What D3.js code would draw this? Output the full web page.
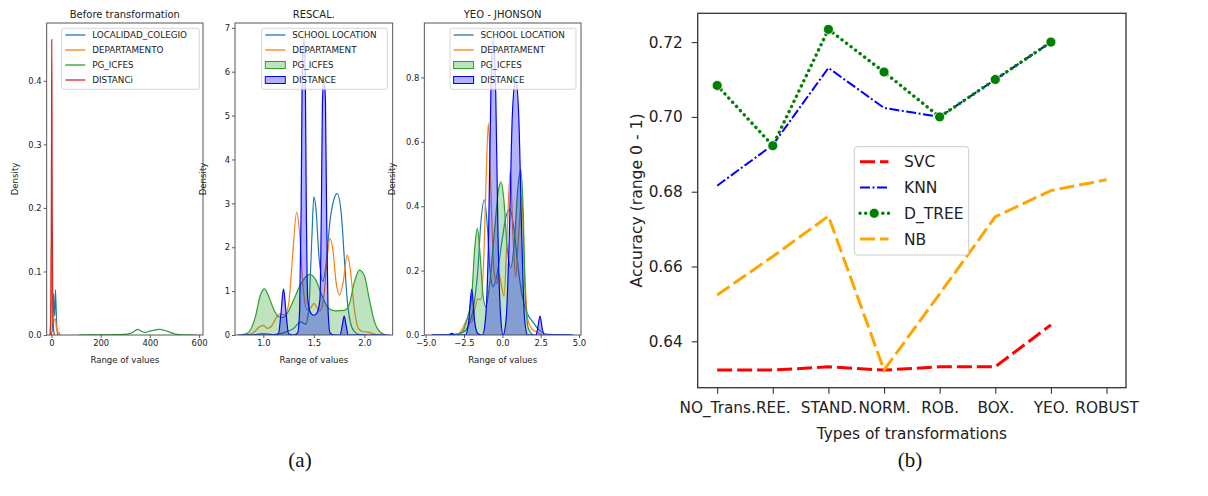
<!DOCTYPE html>
<html>
<head>
<meta charset="utf-8">
<script src="https://cdn.jsdelivr.net/npm/d3@7"></script>
<style>
  body { margin: 0; background: #fff; }
  svg { display: block; font-family: "DejaVu Sans", sans-serif; }
</style>
</head>
<body>
<div id="chart"></div>
<script>
// ==========================================
// DATA
// ==========================================

// --- (a) density curves, [x, density] pairs ---
// Before transformation
const beforeLocalidad = [[-3,0],[2,0.005],[5,0.03],[8,0.065],[10,0.045],[13,0.03],[16,0.071],[19,0.04],[22,0.01],[26,0]];
const beforeDepartamento = [[-5,0],[-2,0.05],[0,0.16],[2,0.08],[4,0.02],[8,0.02],[12,0.025],[16,0.025],[20,0.01],[25,0.005],[30,0.004],[35,0]];
const beforePgIcfes = [[110,0],[200,0.0003],[300,0.001],[330,0.004],[350,0.009],[365,0.006],[380,0.004],[400,0.006],[440,0.009],[470,0.006],[500,0.002],[530,0.0003],[590,0]];
const beforeDistanci = [[-6,0],[-3,0.03],[-1,0.16],[0,0.3],[1,0.465],[2,0.36],[3,0.2],[5,0.06],[8,0.01],[12,0]];

// RESCAL.
const rescalSchool = [[0.9,0],[1.0,0.03],[1.1,0.01],[1.2,0.05],[1.3,0.15],[1.37,0.3],[1.42,0.25],[1.45,0.6],[1.48,2.2],[1.5,3.15],[1.52,2.9],[1.55,1.8],[1.59,1.22],[1.62,1.6],[1.66,2.6],[1.7,3.1],[1.73,3.22],[1.77,2.8],[1.8,1.8],[1.83,0.8],[1.86,0.3],[1.9,0.08],[1.95,0.01],[2.0,0]];
const rescalDepartament = [[0.84,0],[0.9,0.05],[0.96,0.18],[1.0,0.22],[1.04,0.15],[1.08,0.2],[1.13,0.4],[1.17,0.48],[1.21,0.45],[1.25,0.7],[1.29,1.8],[1.33,2.8],[1.36,2.3],[1.39,1.2],[1.43,0.58],[1.47,0.62],[1.5,0.72],[1.53,0.62],[1.56,0.55],[1.6,0.9],[1.63,1.7],[1.66,2.2],[1.69,1.9],[1.72,1.2],[1.755,0.91],[1.79,1.2],[1.83,1.82],[1.86,1.5],[1.9,0.6],[1.94,0.15],[1.98,0.08],[2.05,0.06],[2.1,0.02],[2.15,0]];
const rescalPgIcfes = [[0.78,0],[0.85,0.05],[0.92,0.4],[0.97,0.9],[1.01,1.05],[1.05,0.9],[1.1,0.6],[1.15,0.42],[1.2,0.4],[1.25,0.55],[1.3,0.8],[1.38,1.2],[1.46,1.38],[1.52,1.25],[1.58,0.9],[1.65,0.6],[1.72,0.55],[1.8,0.56],[1.85,0.7],[1.9,1.2],[1.95,1.48],[2.0,1.35],[2.05,0.8],[2.1,0.3],[2.15,0.08],[2.21,0]];
const rescalDistance = [[0.75,0],[1.1,0],[1.15,0.03],[1.175,0.5],[1.2,1.05],[1.225,0.5],[1.25,0.03],[1.3,0],[1.34,0.05],[1.36,0.6],[1.375,3],[1.385,6],[1.4,6.75],[1.415,6],[1.425,3],[1.44,0.8],[1.47,0.5],[1.5,0.45],[1.53,0.5],[1.56,0.8],[1.575,3],[1.585,5.3],[1.6,5.85],[1.615,5.3],[1.625,3],[1.64,0.6],[1.66,0.05],[1.7,0],[1.76,0],[1.78,0.2],[1.8,0.43],[1.82,0.2],[1.84,0],[2.25,0]];

// YEO - JHONSON
const yeoSchool = [[-4.6,0],[-3,0.003],[-2.5,0.01],[-2.2,0.03],[-1.9,0.08],[-1.6,0.2],[-1.4,0.35],[-1.17,0.42],[-1.0,0.35],[-0.8,0.2],[-0.6,0.15],[-0.3,0.2],[0.0,0.3],[0.25,0.37],[0.5,0.39],[0.75,0.33],[1.0,0.22],[1.3,0.12],[1.6,0.07],[2.0,0.04],[2.4,0.015],[3.0,0.002],[4.6,0]];
const yeoDepartament = [[-2.9,0],[-2.6,0.02],[-2.22,0.052],[-2.0,0.04],[-1.8,0.08],[-1.59,0.112],[-1.4,0.11],[-1.2,0.25],[-1.05,0.5],[-0.91,0.657],[-0.75,0.45],[-0.55,0.2],[-0.37,0.16],[-0.22,0.19],[-0.05,0.15],[0.11,0.12],[0.3,0.3],[0.52,0.512],[0.7,0.3],[0.87,0.18],[1.05,0.3],[1.26,0.43],[1.45,0.2],[1.65,0.05],[1.9,0.02],[2.2,0.01],[2.6,0]];
const yeoPgIcfes = [[-3.0,0],[-2.6,0.01],[-2.3,0.05],[-2.0,0.12],[-1.8,0.27],[-1.63,0.331],[-1.45,0.25],[-1.25,0.12],[-1.07,0.088],[-0.85,0.15],[-0.5,0.33],[-0.25,0.45],[-0.09,0.476],[0.1,0.42],[0.3,0.28],[0.55,0.21],[0.8,0.3],[1.0,0.45],[1.2,0.514],[1.35,0.4],[1.5,0.12],[1.7,0.02],[2.0,0]];
const yeoDistance = [[-4.6,0],[-3.5,0],[-3.3,0.005],[-3.1,0],[-2.4,0],[-2.2,0.04],[-2.0,0.142],[-1.8,0.04],[-1.6,0.005],[-1.3,0],[-1.1,0.05],[-0.9,0.3],[-0.75,0.75],[-0.59,0.921],[-0.43,0.75],[-0.28,0.3],[-0.1,0.05],[0.05,0],[0.25,0.05],[0.45,0.3],[0.65,0.68],[0.87,0.797],[1.07,0.68],[1.27,0.3],[1.45,0.05],[1.65,0],[2.2,0],[2.3,0.02],[2.46,0.059],[2.6,0.02],[2.75,0],[4.6,0]];

// --- (b) accuracy per transformation ---
const transforms = ["NO_Trans.", "REE.", "STAND.", "NORM.", "ROB.", "BOX.", "YEO.", "ROBUST"];
const svcAcc   = [0.6323, 0.6323, 0.6332, 0.6323, 0.6332, 0.6332, 0.6444];
const knnAcc   = [0.6816, 0.6925, 0.7131, 0.7024, 0.7000, 0.7100, 0.7200];
const dtreeAcc = [0.7084, 0.6923, 0.7234, 0.7120, 0.7000, 0.7100, 0.7200];
const nbAcc    = [0.6524, 0.6627, 0.6735, 0.6323, 0.6527, 0.6733, 0.6803, 0.6832];

// ==========================================
// CANVAS
// ==========================================
const W = 1208, H = 496;
const svg = d3.select("#chart").append("svg")
    .attr("width", W).attr("height", H)
    .attr("viewBox", `0 0 ${W} ${H}`);

const C0 = "#1f77b4", C1 = "#ff7f0e", C2 = "#2ca02c", C3 = "#d62728";

// ==========================================
// (a) three density panels
// ==========================================
const panels = [
    {
        id: "p1", title: "Before transformation",
        left: 46.7, right: 203, xdom: [-19.5, 616], ydom: [0, 0.491],
        xticks: [0, 200, 400, 600], yticks: [0, 0.1, 0.2, 0.3, 0.4],
        xfmt: d3.format("d"), yfmt: d3.format(".1f"),
        legendX: 61.7, legendW: 137.6,
        series: [
            { name: "LOCALIDAD_COLEGIO", data: beforeLocalidad, color: C0 },
            { name: "DEPARTAMENTO", data: beforeDepartamento, color: C1 },
            { name: "PG_ICFES", data: beforePgIcfes, color: C2 },
            { name: "DISTANCi", data: beforeDistanci, color: C3 }
        ]
    },
    {
        id: "p2", title: "RESCAL.",
        left: 235, right: 392.7, xdom: [0.72, 2.28], ydom: [0, 7.11],
        xticks: [1.0, 1.5, 2.0], yticks: [0, 1, 2, 3, 4, 5, 6, 7],
        xfmt: d3.format(".1f"), yfmt: d3.format("d"),
        legendX: 261.7, legendW: 125.6,
        series: [
            { name: "SCHOOL LOCATION", data: rescalSchool, color: C0 },
            { name: "DEPARTAMENT", data: rescalDepartament, color: C1 },
            { name: "PG_ICFES", data: rescalPgIcfes, color: C2, fill: true },
            { name: "DISTANCE", data: rescalDistance, color: "#0000ff", fill: true }
        ]
    },
    {
        id: "p3", title: "YEO - JHONSON",
        left: 424.3, right: 581, xdom: [-5.09, 5.13], ydom: [0, 0.969],
        xticks: [-5, -2.5, 0, 2.5, 5], yticks: [0, 0.2, 0.4, 0.6, 0.8],
        xfmt: d3.format(".1f"), yfmt: d3.format(".1f"),
        legendX: 450, legendW: 126,
        series: [
            { name: "SCHOOL LOCATION", data: yeoSchool, color: C0 },
            { name: "DEPARTAMENT", data: yeoDepartament, color: C1 },
            { name: "PG_ICFES", data: yeoPgIcfes, color: C2, fill: true },
            { name: "DISTANCE", data: yeoDistance, color: "#0000ff", fill: true }
        ]
    }
];

const aTop = 23, aBottom = 335;

panels.forEach(p => {
    const x = d3.scaleLinear().domain(p.xdom).range([p.left, p.right]);
    const y = d3.scaleLinear().domain(p.ydom).range([aBottom, aTop]);
    const g = svg.append("g");

    g.append("clipPath").attr("id", "clip-" + p.id)
        .append("rect")
        .attr("x", p.left).attr("y", aTop)
        .attr("width", p.right - p.left).attr("height", aBottom - aTop);

    const plot = g.append("g").attr("clip-path", `url(#clip-${p.id})`);
    const line = d3.line().x(d => x(d[0])).y(d => y(d[1])).curve(d3.curveMonotoneX);
    const area = d3.area().x(d => x(d[0])).y0(y(0)).y1(d => y(d[1])).curve(d3.curveMonotoneX);

    p.series.forEach(s => {
        if (s.fill) {
            plot.append("path").datum(s.data)
                .attr("d", area)
                .attr("fill", s.color).attr("fill-opacity", 0.3);
        }
        plot.append("path").datum(s.data)
            .attr("d", line)
            .attr("fill", "none")
            .attr("stroke", s.color)
            .attr("stroke-width", 1.2);
    });

    // axes
    const xAxis = g.append("g")
        .attr("transform", `translate(0,${aBottom})`)
        .call(d3.axisBottom(x).tickValues(p.xticks).tickFormat(p.xfmt).tickSize(3).tickPadding(2));
    const yAxis = g.append("g")
        .attr("transform", `translate(${p.left},0)`)
        .call(d3.axisLeft(y).tickValues(p.yticks).tickFormat(p.yfmt).tickSize(3).tickPadding(2));
    [xAxis, yAxis].forEach(a => {
        a.select(".domain").remove();
        a.selectAll("line").attr("stroke", "#333").attr("stroke-width", 0.8);
        a.selectAll("text").attr("font-size", 8.4).attr("fill", "#222")
            .attr("font-family", "DejaVu Sans, sans-serif");
    });

    g.append("rect")
        .attr("x", p.left).attr("y", aTop)
        .attr("width", p.right - p.left).attr("height", aBottom - aTop)
        .attr("fill", "none").attr("stroke", "#444").attr("stroke-width", 0.9);

    g.append("text")
        .attr("x", (p.left + p.right) / 2).attr("y", 18)
        .attr("text-anchor", "middle").attr("font-size", 10).attr("fill", "#222")
        .text(p.title);
    g.append("text")
        .attr("x", (p.left + p.right) / 2).attr("y", 363)
        .attr("text-anchor", "middle").attr("font-size", 8.6).attr("fill", "#222")
        .text("Range of values");
    g.append("text")
        .attr("transform", `translate(${p.left - 29},${(aTop + aBottom) / 2}) rotate(-90)`)
        .attr("text-anchor", "middle").attr("font-size", 8.6).attr("fill", "#222")
        .text("Density");

    // legend
    const lg = g.append("g");
    lg.append("rect")
        .attr("x", p.legendX).attr("y", 28.3)
        .attr("width", p.legendW).attr("height", 61)
        .attr("rx", 2)
        .attr("fill", "#fff").attr("fill-opacity", 0.8)
        .attr("stroke", "#ccc").attr("stroke-width", 0.8);
    p.series.forEach((s, i) => {
        const cy = 35 + i * 15;
        const hx = p.legendX + 3.6;
        if (s.fill) {
            lg.append("rect")
                .attr("x", hx).attr("y", cy - 3.5)
                .attr("width", 20).attr("height", 7)
                .attr("fill", s.color).attr("fill-opacity", 0.3)
                .attr("stroke", s.color).attr("stroke-width", 1);
        } else {
            lg.append("line")
                .attr("x1", hx).attr("x2", hx + 20)
                .attr("y1", cy).attr("y2", cy)
                .attr("stroke", s.color).attr("stroke-width", 1.3);
        }
        lg.append("text")
            .attr("x", p.legendX + 30.5).attr("y", cy + 3.2)
            .attr("font-size", 8.8).attr("fill", "#222")
            .text(s.name);
    });
});

// ==========================================
// (b) accuracy line chart
// ==========================================
const bL = 697.7, bR = 1126, bT = 13.3, bB = 387.7;
const xb = d3.scaleLinear().domain([-0.35, transforms.length - 1 + 0.35]).range([bL, bR]);
const yb = d3.scaleLinear().domain([0.6276, 0.7277]).range([bB, bT]);

const gb = svg.append("g");

const models = [
    { name: "SVC", values: svcAcc, color: "#ff0000", width: 3, dash: "15,5", cap: "butt" },
    { name: "KNN", values: knnAcc, color: "#0000ff", width: 2, dash: "10,2.5,2,2.5", cap: "butt" },
    { name: "D_TREE", values: dtreeAcc, color: "#008000", width: 3.4, dash: "0.1,5.6", cap: "round", marker: true },
    { name: "NB", values: nbAcc, color: "#ffa500", width: 3, dash: "15,5", cap: "butt" }
];

const lineB = d3.line().x((d, i) => xb(i)).y(d => yb(d));

models.forEach(m => {
    gb.append("path").datum(m.values)
        .attr("d", lineB)
        .attr("fill", "none")
        .attr("stroke", m.color)
        .attr("stroke-width", m.width)
        .attr("stroke-dasharray", m.dash)
        .attr("stroke-linecap", m.cap);
    if (m.marker) {
        gb.selectAll(null).data(m.values).enter().append("circle")
            .attr("cx", (d, i) => xb(i)).attr("cy", d => yb(d))
            .attr("r", 5).attr("fill", m.color)
            .attr("stroke", "#fff").attr("stroke-width", 0.8);
    }
});

const xAxisB = gb.append("g")
    .attr("transform", `translate(0,${bB})`)
    .call(d3.axisBottom(xb).tickValues(d3.range(transforms.length))
        .tickFormat(i => transforms[i]).tickSize(6).tickPadding(8.5));
const yAxisB = gb.append("g")
    .attr("transform", `translate(${bL},0)`)
    .call(d3.axisLeft(yb).tickValues([0.64, 0.66, 0.68, 0.70, 0.72])
        .tickFormat(d3.format(".2f")).tickSize(6).tickPadding(9));
[xAxisB, yAxisB].forEach(a => {
    a.select(".domain").remove();
    a.selectAll("line").attr("stroke", "#333").attr("stroke-width", 1.1);
    a.selectAll("text").attr("font-size", 15.3).attr("fill", "#222")
        .attr("font-family", "DejaVu Sans, sans-serif");
});

gb.append("rect")
    .attr("x", bL).attr("y", bT)
    .attr("width", bR - bL).attr("height", bB - bT)
    .attr("fill", "none").attr("stroke", "#333").attr("stroke-width", 1.3);

gb.append("text")
    .attr("x", (bL + bR) / 2).attr("y", 439)
    .attr("text-anchor", "middle").attr("font-size", 15.4).attr("fill", "#222")
    .text("Types of transformations");
gb.append("text")
    .attr("transform", `translate(642,${(bT + bB) / 2}) rotate(-90)`)
    .attr("text-anchor", "middle").attr("font-size", 15.6).attr("fill", "#222")
    .text("Accuracy (range 0 - 1)");

// legend
const lgb = gb.append("g");
lgb.append("rect")
    .attr("x", 854.3).attr("y", 146.7)
    .attr("width", 114.4).attr("height", 108.3)
    .attr("rx", 3)
    .attr("fill", "#fff").attr("fill-opacity", 0.85)
    .attr("stroke", "#ccc").attr("stroke-width", 1);
models.forEach((m, i) => {
    const cy = 161.7 + i * 25.8;
    lgb.append("line")
        .attr("x1", 860).attr("x2", 888.5)
        .attr("y1", cy).attr("y2", cy)
        .attr("stroke", m.color).attr("stroke-width", m.width)
        .attr("stroke-dasharray", m.dash)
        .attr("stroke-linecap", m.cap);
    if (m.marker) {
        lgb.append("circle").attr("cx", 874.2).attr("cy", cy).attr("r", 5)
            .attr("fill", m.color).attr("stroke", "#fff").attr("stroke-width", 0.8);
    }
    lgb.append("text")
        .attr("x", 904).attr("y", cy + 5.6)
        .attr("font-size", 15.5).attr("fill", "#222")
        .text(m.name);
});

// sub-figure labels
svg.append("text")
    .attr("x", 300).attr("y", 467)
    .attr("text-anchor", "middle").attr("font-size", 21)
    .attr("font-family", "Liberation Serif, DejaVu Serif, serif").attr("fill", "#111")
    .text("(a)");
svg.append("text")
    .attr("x", 910).attr("y", 467)
    .attr("text-anchor", "middle").attr("font-size", 21)
    .attr("font-family", "Liberation Serif, DejaVu Serif, serif").attr("fill", "#111")
    .text("(b)");
</script>
</body>
</html>
